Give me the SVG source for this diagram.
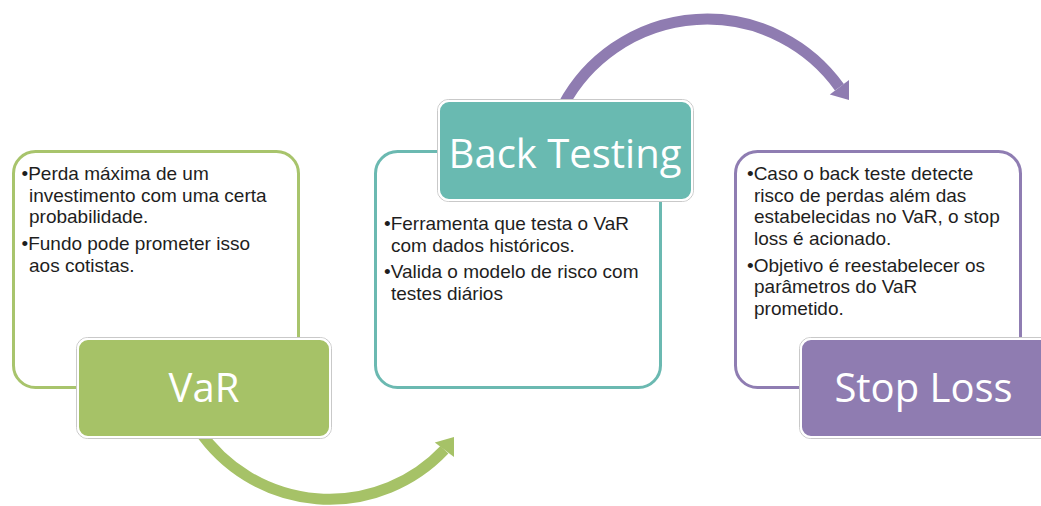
<svg xmlns="http://www.w3.org/2000/svg" width="1041" height="506" viewBox="0 0 1041 506">
<style>
.body{font-family:"Liberation Sans",Arial,sans-serif;font-size:19px;fill:#1e1e1e}
.lbl{font-family:"Open Sans","Liberation Sans",sans-serif;font-size:40px;fill:#ffffff;text-anchor:middle}
.outer{fill:#ffffff;stroke-width:3}
.halo{fill:none;stroke:#c9c9c9;stroke-width:1}
.tag{stroke:#ffffff;stroke-width:2}
.arc{fill:none;stroke-width:11}
</style>
<rect width="1041" height="506" fill="#ffffff"/>
<g id="connectors">
  <path class="arc" stroke="#A6C267" d="M 198.8 430 A 158 158 0 0 0 444.4 449.8"/>
  <polygon fill="#A6C267" points="454,437 454,457 434.8,442.6"/>
  <path class="arc" stroke="#8F7CB1" d="M 563.3 105 A 163 163 0 0 1 839.4 87.2"/>
  <polygon fill="#8F7CB1" points="849,100 849,80 829.8,94.4"/>
</g>
<g id="var">
  <rect class="outer" stroke="#A8C46C" x="13.5" y="151.5" width="285" height="236" rx="22"/>
  <text class="body" x="21.5" y="180">•Perda máxima de um</text>
  <text class="body" x="29" y="201.5">investimento com uma certa</text>
  <text class="body" x="29" y="223">probabilidade.</text>
  <text class="body" x="21.5" y="250">•Fundo pode prometer isso</text>
  <text class="body" x="29" y="271.5">aos cotistas.</text>
  <rect class="halo" x="76.5" y="337.5" width="255" height="101" rx="11"/>
  <rect class="tag" fill="#A6C267" x="78" y="339" width="252" height="98" rx="10"/>
  <text class="lbl" x="204" y="402">VaR</text>
</g>
<g id="backtesting">
  <rect class="outer" stroke="#6BB9B1" x="375.5" y="151.5" width="285" height="236" rx="22"/>
  <text class="body" x="384" y="230">•Ferramenta que testa o VaR</text>
  <text class="body" x="391" y="251.5">com dados históricos.</text>
  <text class="body" x="384" y="278">•Valida o modelo de risco com</text>
  <text class="body" x="391" y="299.5">testes diários</text>
  <rect class="halo" x="437.5" y="99.5" width="256" height="102" rx="11"/>
  <rect class="tag" fill="#69BAB1" x="439" y="101" width="253" height="99" rx="10"/>
  <text class="lbl" x="565" y="168">Back Testing</text>
</g>
<g id="stoploss">
  <rect class="outer" stroke="#8F7DB2" x="735.5" y="151.5" width="285" height="236" rx="22"/>
  <text class="body" x="747" y="180">•Caso o back teste detecte</text>
  <text class="body" x="754" y="201.5">risco de perdas além das</text>
  <text class="body" x="754" y="223">estabelecidas no VaR, o stop</text>
  <text class="body" x="754" y="244.5">loss é acionado.</text>
  <text class="body" x="747" y="271.5">•Objetivo é reestabelecer os</text>
  <text class="body" x="754" y="293">parâmetros do VaR</text>
  <text class="body" x="754" y="314.5">prometido.</text>
  <rect class="halo" x="799.5" y="337.5" width="262" height="101" rx="11"/>
  <rect class="tag" fill="#8F7CB1" x="801" y="339" width="259" height="98" rx="10"/>
  <text class="lbl" x="923.5" y="402">Stop Loss</text>
</g>
</svg>
